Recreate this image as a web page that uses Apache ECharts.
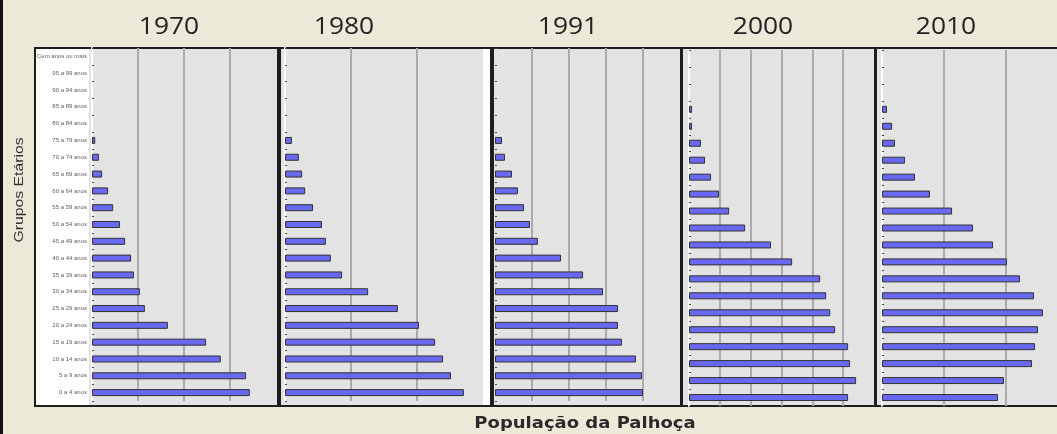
<!DOCTYPE html>
<html>
<head>
<meta charset="utf-8">
<script src="https://cdn.jsdelivr.net/npm/echarts@6.0.0/dist/echarts.min.js"></script>
<style>
  html, body { margin: 0; padding: 0; background: #ede9d9; }
  #chart { width: 1057px; height: 434px; }
</style>
</head>
<body>
<div id="chart"></div>
<script>
// Age groups, bottom to top
const ageGroups = [
  "0 a 4 anos", "5 a 9 anos", "10 a 14 anos", "15 a 19 anos", "20 a 24 anos",
  "25 a 29 anos", "30 a 34 anos", "35 a 39 anos", "40 a 44 anos", "45 a 49 anos",
  "50 a 54 anos", "55 a 59 anos", "60 a 64 anos", "65 a 69 anos", "70 a 74 anos",
  "75 a 79 anos", "80 a 84 anos", "85 a 89 anos", "90 a 94 anos", "95 a 99 anos",
  "Cem anos ou mais"
]

const years = ["1970", "1980", "1991", "2000", "2010"]

// Population per age group
const pop1970 = [3430, 3350, 2800, 2480, 1650, 1150, 1040, 910, 850, 720, 610, 460, 350, 220, 150, 70, 0, 0, 0, 0, 0]
const pop1980 = [5420, 5030, 4790, 4550, 4060, 3420, 2520, 1730, 1390, 1240, 1120, 850, 610, 520, 420, 210, 0, 0, 0, 0, 0]
const pop1991 = [8000, 7950, 7620, 6860, 6650, 6650, 5840, 4760, 3570, 2320, 1890, 1570, 1240, 920, 540, 380, 0, 0, 0, 0, 0]
const pop2000 = [10320, 10840, 10450, 10320, 9480, 9160, 8900, 8510, 6690, 5320, 3640, 2600, 1950, 1430, 1040, 780, 200, 200, 0, 0, 0]
const pop2010 = [9350, 9840, 12100, 12340, 12580, 12980, 12260, 11130, 10080, 8950, 7340, 5650, 3870, 2660, 1850, 1050, 810, 400, 0, 0, 0]

const populations = [pop1970, pop1980, pop1991, pop2000, pop2010]
const axisMax = [4000, 6000, 10000, 12000, 15000]
const axisStep = [1000, 2000, 2000, 2000, 5000]

// panel layout (px)
const panelLayout = [
  { left: 92, width: 184, top: 48, height: 353, offset: 2, titleX: 169 },
  { left: 285, width: 198, top: 48, height: 353, offset: 3, titleX: 344 },
  { left: 495, width: 185, top: 48, height: 353, offset: 0, titleX: 568 },
  { left: 689, width: 185, top: 50, height: 356, offset: 4, titleX: 763 },
  { left: 882, width: 186, top: 50, height: 356, offset: 4, titleX: 946 },
]

const FRAME_TOP = 48
const FRAME_BOTTOM = 406
const BAR_COLOR = "#6868f0"
const GRID_COLOR = "#ababab"
const SANS = "'Liberation Sans', Arial, sans-serif"

const chart = echarts.init(document.getElementById("chart"), null, { renderer: "canvas" })

const grids = panelLayout.map((p) => ({
  left: p.left, top: p.top, width: p.width, height: p.height,
  outerBoundsMode: "none",
  containLabel: false,
}))

const xAxes = panelLayout.map((p, i) => ({
  type: "value",
  gridIndex: i,
  min: 0,
  max: axisMax[i],
  interval: axisStep[i],
  axisLabel: { show: false },
  axisTick: { show: false },
  axisLine: { show: false },
  splitLine: {
    show: true,
    showMinLine: false,
    showMaxLine: false,
    lineStyle: { color: GRID_COLOR, width: 2 },
  },
}))

const yAxes = panelLayout.map((p, i) => ({
  type: "category",
  gridIndex: i,
  data: ageGroups,
  offset: p.offset,
  axisLine: { show: i !== 2, lineStyle: { color: "#ffffff", width: 2 } },
  axisTick: { show: true, inside: true, length: 2, lineStyle: { color: "#444" } },
  axisLabel: {
    show: i === 0,
    interval: 0,
    fontSize: 6,
    fontFamily: SANS,
    color: "#5e5e5e",
    margin: 3,
  },
  splitLine: { show: false },
}))

// empty age groups get no bar at all
const series = populations.map((data, i) => ({
  type: "bar",
  name: years[i],
  xAxisIndex: i,
  yAxisIndex: i,
  data: data.map((v) => (v > 0 ? v : null)),
  barWidth: 7,
  itemStyle: { color: BAR_COLOR, borderColor: "#333", borderWidth: 1 },
  silent: true,
}))

// frames, separators and texts
const graphics = [
  { type: "rect", z: -10, shape: { x: 0, y: 0, width: 3, height: 434 }, style: { fill: "#111" } },
  {
    type: "rect", z: -10,
    shape: { x: 35, y: FRAME_TOP, width: 1030, height: FRAME_BOTTOM - FRAME_TOP },
    style: { fill: "#e3e3e3", stroke: "#1e1e1e", lineWidth: 2 },
  },
  { type: "rect", z: -9, shape: { x: 36, y: FRAME_TOP + 1, width: 53, height: FRAME_BOTTOM - FRAME_TOP - 2 }, style: { fill: "#ffffff" } },
  { type: "rect", z: -9, shape: { x: 483, y: FRAME_TOP + 1, width: 7, height: FRAME_BOTTOM - FRAME_TOP - 2 }, style: { fill: "#ffffff" } },
  { type: "rect", z: -8, shape: { x: 277, y: FRAME_TOP, width: 4, height: FRAME_BOTTOM - FRAME_TOP }, style: { fill: "#1e1e1e" } },
  { type: "rect", z: -8, shape: { x: 490, y: FRAME_TOP, width: 4, height: FRAME_BOTTOM - FRAME_TOP }, style: { fill: "#1e1e1e" } },
  { type: "rect", z: -8, shape: { x: 680, y: FRAME_TOP, width: 3, height: FRAME_BOTTOM - FRAME_TOP }, style: { fill: "#1e1e1e" } },
  { type: "rect", z: -8, shape: { x: 874, y: FRAME_TOP, width: 3, height: FRAME_BOTTOM - FRAME_TOP }, style: { fill: "#1e1e1e" } },
  {
    type: "text", x: 19, y: 190, rotation: Math.PI / 2, scaleX: 1.05, scaleY: 0.85,
    style: {
      text: "Grupos Etários", fill: "#333",
      font: "15px " + SANS,
      align: "center", verticalAlign: "middle",
    },
  },
  {
    type: "text", x: 585, y: 424, scaleX: 1.2,
    style: {
      text: "População da Palhoça", fill: "#2a2a2a",
      font: "bold 15px 'DejaVu Sans'",
      align: "center", verticalAlign: "middle",
    },
  },
]

panelLayout.forEach((p, i) => {
  graphics.push({
    type: "text", x: p.titleX, y: 27, scaleX: 1.1,
    style: {
      text: years[i], fill: "#222",
      font: "24px 'Open Sans'",
      align: "center", verticalAlign: "middle",
    },
  })
})

chart.setOption({
  backgroundColor: "#ede9d9",
  animation: false,
  grid: grids,
  xAxis: xAxes,
  yAxis: yAxes,
  series: series,
  graphic: { elements: graphics },
})
</script>
</body>
</html>
